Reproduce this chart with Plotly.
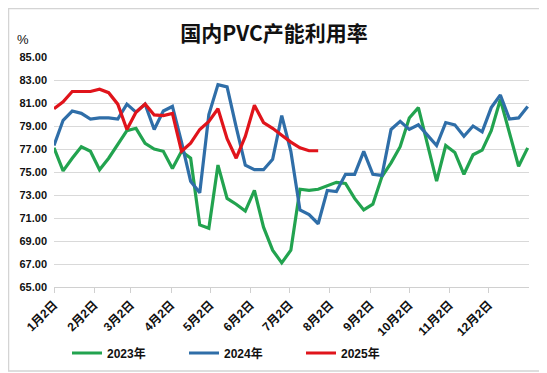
import pandas as pd
import plotly.graph_objects as go

# weekly observation dates (shared Jan-Dec axis)
dates = pd.date_range("2023-01-02", periods=53, freq="7D")

y2023 = [77.1, 75.1, 76.2, 77.2, 76.8, 75.2, 76.2, 77.4, 78.6, 78.8, 77.5, 77.0, 76.8, 75.3,
         76.8, 76.2, 70.4, 70.1, 75.6, 72.7, 72.2, 71.6, 73.4, 70.2, 68.2, 67.1, 68.2,
         73.5, 73.4, 73.5, 73.8, 74.1, 74.0, 72.7, 71.7, 72.2, 74.6, 75.8, 77.2, 79.7,
         80.6, 77.5, 74.2, 77.3, 76.7, 74.8, 76.5, 76.9, 78.6, 81.3, 78.3, 75.5, 77.1]
y2024 = [77.3, 79.5, 80.3, 80.1, 79.6, 79.7, 79.7, 79.6, 80.9, 80.2, 80.9, 78.7, 80.3, 80.7,
         77.6, 74.2, 73.2, 80.0, 82.6, 82.4, 78.9, 75.6, 75.2, 75.2, 76.1, 79.9, 76.8,
         71.7, 71.3, 70.5, 73.4, 73.3, 74.8, 74.8, 76.8, 74.8, 74.7, 78.7, 79.4, 78.7,
         79.1, 78.2, 77.3, 79.3, 79.1, 78.1, 79.0, 78.5, 80.6, 81.7, 79.6, 79.7, 80.7]
y2025 = [80.5, 81.1, 82.0, 82.0, 82.0, 82.2, 81.9, 80.9, 78.7, 80.2, 80.9, 79.96, 79.9, 80.1,
         76.8, 77.5, 78.7, 79.4, 80.5, 77.9, 76.2, 78.1, 80.8, 79.3, 78.8, 78.2, 77.6,
         77.1, 76.85, 76.85]

tick_dates = pd.to_datetime([f"2023-{m:02d}-02" for m in range(1, 13)])
tick_text = [f"{m}月2日" for m in range(1, 13)]

series = [("2023年", y2023, "#22a34f"), ("2024年", y2024, "#2f6ea8"), ("2025年", y2025, "#e0141b")]

# the page body adds an 8px offset; figure is sized/positioned to compensate
W, H = 539, 365

fig = go.Figure()
for name, ys, col in series:
    fig.add_trace(go.Scatter(x=dates[:len(ys)], y=ys, name=name, mode="lines",
                             line=dict(color=col, width=3.2)))

fig.update_layout(
    width=W, height=H,
    margin=dict(l=46, r=18, t=49, b=86),
    paper_bgcolor="white", plot_bgcolor="white",
    title=dict(text="国内PVC产能利用率", x=266/W, xanchor="center", xref="container",
               y=1-26/H, yanchor="middle", yref="container",
               font=dict(family="Noto Sans CJK SC", size=21, color="#111111", weight="bold")),
    showlegend=True,
    legend=dict(orientation="h", xref="container", yref="container",
                x=59/W, xanchor="left", y=1-345/H, yanchor="middle",
                entrywidth=72, entrywidthmode="pixels",
                font=dict(family="Liberation Sans, Noto Sans CJK SC", size=12, color="#111111", weight="bold"),
                bgcolor="rgba(0,0,0,0)"),
    font=dict(family="Liberation Sans, Noto Sans CJK SC", color="#111111"),
)

fig.update_xaxes(type="date", range=[pd.Timestamp("2023-01-02"), pd.Timestamp("2024-01-02")],
                 tickvals=tick_dates, ticktext=tick_text, tickangle=-45, automargin=False,
                 showgrid=False, showline=True, linecolor="#d0d0d0", linewidth=1,
                 ticks="outside", ticklen=5, tickcolor="#d0d0d0",
                 tickfont=dict(family="Liberation Sans, Noto Sans CJK SC", size=12, color="#111111", weight="bold"),
                 zeroline=False)
fig.update_yaxes(range=[65, 85], dtick=2, tick0=65, tickformat=".2f", automargin=False,
                 showgrid=True, gridcolor="#d9d9d9", gridwidth=1, zeroline=False, showline=False,
                 ticks="", ticklabelstandoff=6,
                 tickfont=dict(family="Liberation Sans", size=11, color="#111111", weight="bold"))

fig.add_annotation(text="%", xref="paper", yref="paper", x=-31/475, y=1+18/230,
                   xanchor="center", yanchor="middle", showarrow=False,
                   font=dict(family="Liberation Sans", size=13, color="#111111"))

# outer frame (right/bottom edges as in reference; left/top at figure edge)
fig.add_shape(type="rect", xref="paper", yref="paper",
              x0=-45.5/475, x1=1+16/475, y0=-84/230, y1=1+48.5/230,
              line=dict(color="#d4d4d4", width=1.5), fillcolor="rgba(0,0,0,0)")

fig.write_html("out.html")
